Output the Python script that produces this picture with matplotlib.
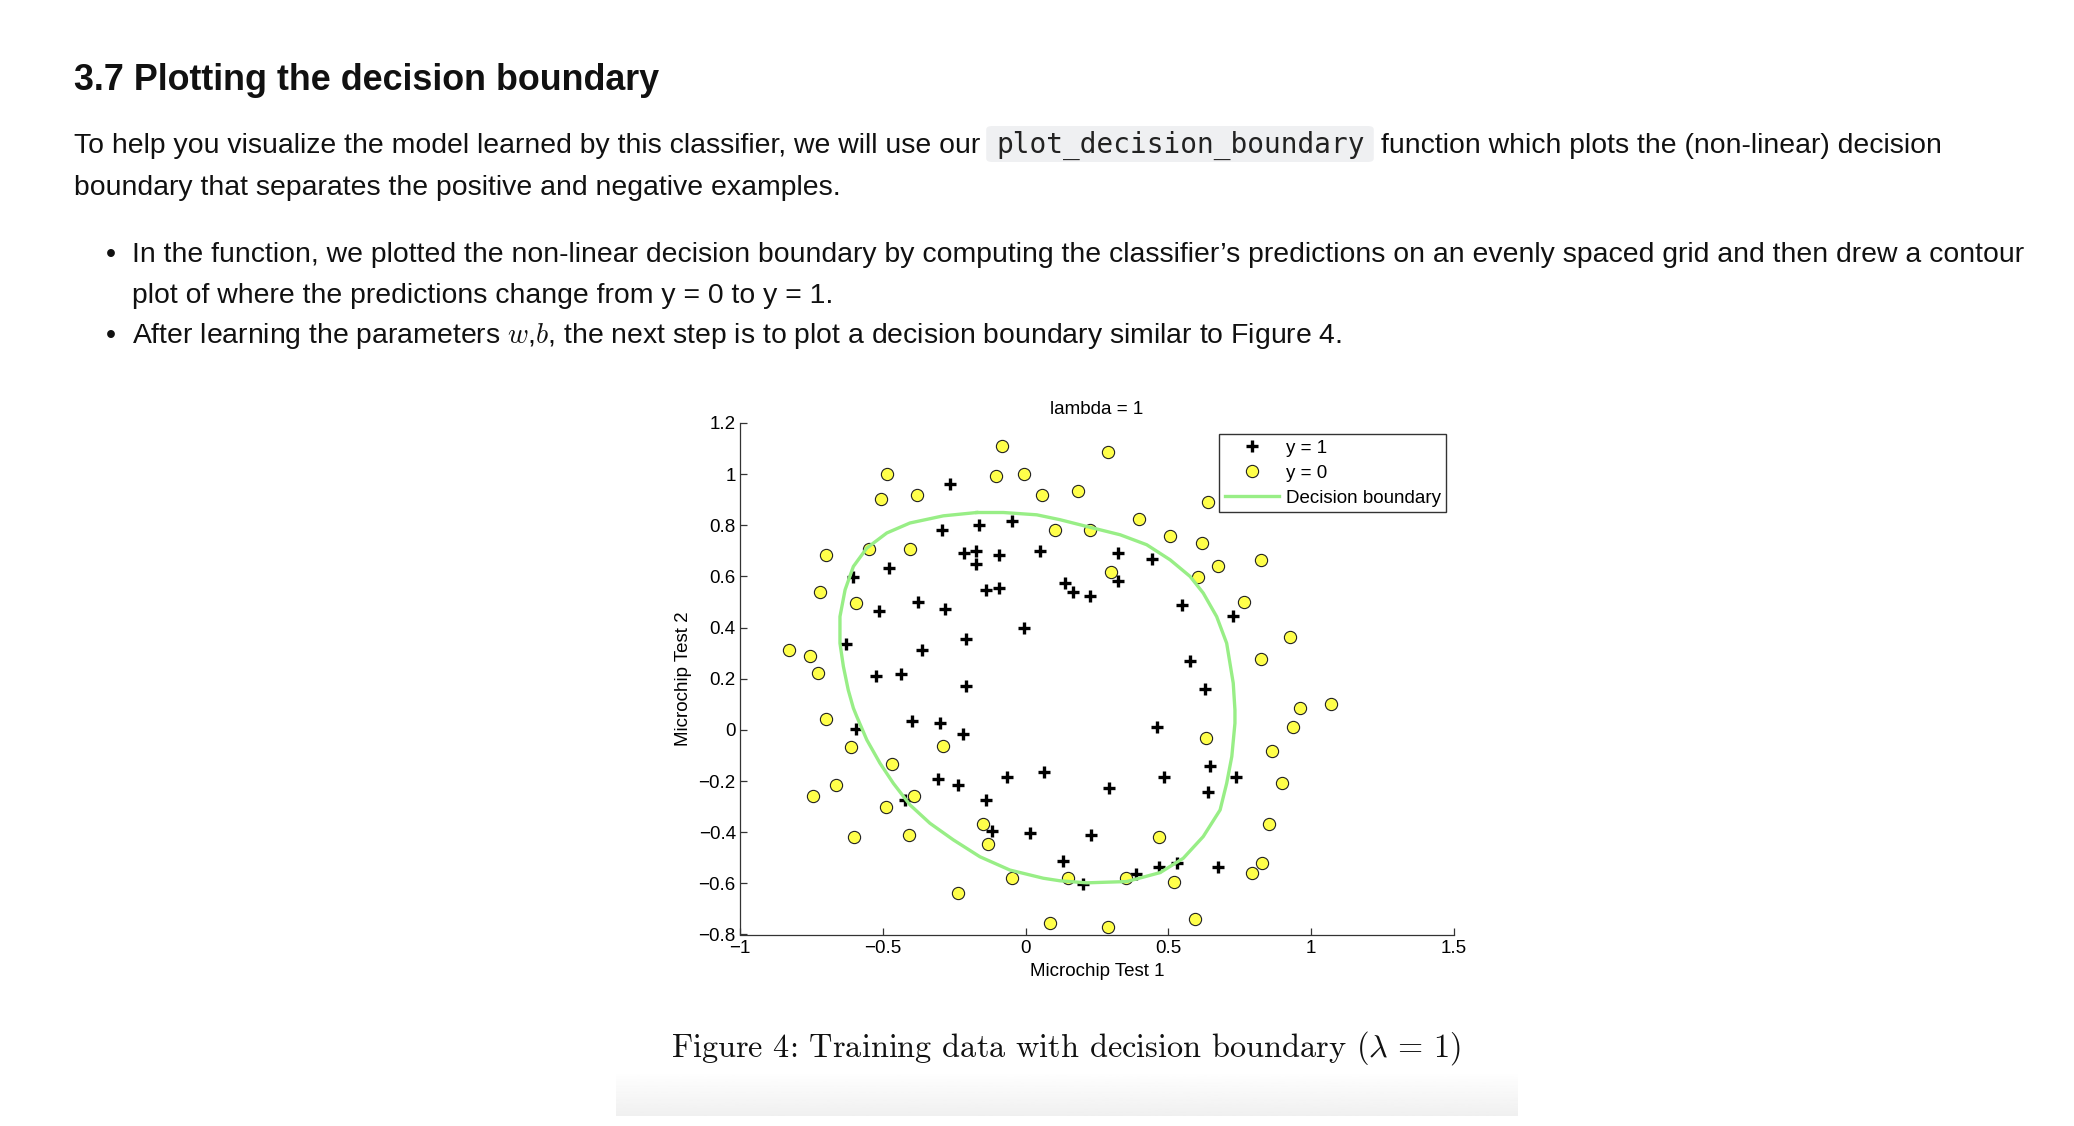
import numpy as np
import matplotlib
import matplotlib.pyplot as plt
from matplotlib.lines import Line2D
from matplotlib.patches import FancyBboxPatch

# microchip test scores, accepted (y = 1)
pos_test1 = [0.051, -0.093, -0.214, -0.375, -0.513, -0.525, -0.398, -0.306, 0.017, 0.132,
             0.385, 0.529, 0.639, 0.737, 0.547, 0.322, 0.166, -0.047, -0.173, -0.479,
             -0.605, -0.628, -0.594, -0.421, -0.116, 0.201, 0.466, 0.673, -0.139, -0.294,
             -0.266, -0.162, -0.173, -0.283, -0.363, -0.300, -0.237, -0.064, 0.063, 0.230,
             0.293, 0.483, 0.645, 0.460, 0.627, 0.575, 0.725, 0.224, 0.443, 0.322,
             0.138, -0.006, -0.093, -0.208, -0.208, -0.438, -0.219, -0.139]
pos_test2 = [0.700, 0.685, 0.692, 0.502, 0.466, 0.210, 0.034, -0.192, -0.404, -0.514,
             -0.565, -0.521, -0.243, -0.185, 0.488, 0.583, 0.539, 0.817, 0.700, 0.634,
             0.597, 0.334, 0.005, -0.273, -0.397, -0.602, -0.536, -0.536, 0.546, 0.780,
             0.963, 0.802, 0.648, 0.473, 0.312, 0.027, -0.214, -0.185, -0.163, -0.412,
             -0.229, -0.185, -0.141, 0.012, 0.159, 0.268, 0.444, 0.524, 0.670, 0.692,
             0.575, 0.400, 0.553, 0.356, 0.173, 0.217, -0.017, -0.273]

# rejected (y = 0)
neg_test1 = [0.184, 0.224, 0.299, 0.506, 0.616, 0.604, 0.766, 0.927, 0.823, 0.961,
             0.938, 0.863, 0.898, 0.852, 0.829, 0.794, 0.593, 0.518, 0.466, 0.351,
             0.287, 0.086, 0.149, -0.133, -0.410, -0.392, -0.744, -0.698, -0.755, -0.698,
             -0.404, -0.381, -0.507, -0.548, 0.103, 0.057, -0.104, -0.081, 0.287, 0.397,
             0.639, 0.823, 0.673, 1.071, -0.047, -0.237, -0.150, -0.490, -0.467, -0.289,
             -0.611, -0.663, -0.600, -0.726, -0.830, -0.721, -0.594, -0.484, -0.006, 0.633]
neg_test2 = [0.933, 0.780, 0.619, 0.758, 0.729, 0.597, 0.502, 0.363, 0.276, 0.086,
             0.012, -0.083, -0.207, -0.368, -0.521, -0.558, -0.741, -0.594, -0.419, -0.580,
             -0.770, -0.755, -0.580, -0.448, -0.412, -0.258, -0.258, 0.042, 0.290, 0.685,
             0.707, 0.919, 0.904, 0.707, 0.780, 0.919, 0.992, 1.109, 1.087, 0.824,
             0.890, 0.663, 0.641, 0.100, -0.580, -0.638, -0.368, -0.302, -0.134, -0.061,
             -0.068, -0.214, -0.419, 0.224, 0.312, 0.539, 0.495, 0.999, 0.999, -0.031]

# decision boundary
boundary_x = [-0.171, -0.078, 0.039, 0.120, 0.237, 0.331, 0.424, 0.506, 0.576, 0.622,
              0.669, 0.704, 0.727, 0.733, 0.733, 0.722, 0.704, 0.681, 0.622, 0.552,
              0.471, 0.354, 0.214, 0.120, 0.062, -0.055, -0.160, -0.253, -0.335, -0.405,
              -0.463, -0.510, -0.556, -0.591, -0.603, -0.621, -0.638, -0.650, -0.650, -0.632,
              -0.603, -0.556, -0.486, -0.405, -0.288, -0.171]
boundary_y = [0.850, 0.850, 0.841, 0.822, 0.789, 0.763, 0.724, 0.665, 0.600, 0.535,
              0.443, 0.339, 0.183, 0.078, 0.026, -0.104, -0.209, -0.313, -0.417, -0.502,
              -0.558, -0.593, -0.598, -0.590, -0.580, -0.548, -0.496, -0.430, -0.365, -0.293,
              -0.209, -0.130, -0.039, 0.052, 0.085, 0.156, 0.248, 0.339, 0.443, 0.548,
              0.639, 0.711, 0.770, 0.809, 0.837, 0.850]

xticks = [-1, -0.5, 0, 0.5, 1, 1.5]
xtick_labels = ['\u22121', '\u22120.5', '0', '0.5', '1', '1.5']
yticks = [-0.8, -0.6, -0.4, -0.2, 0, 0.2, 0.4, 0.6, 0.8, 1, 1.2]
ytick_labels = ['\u22120.8', '\u22120.6', '\u22120.4', '\u22120.2', '0', '0.2', '0.4',
                '0.6', '0.8', '1', '1.2']

W, H = 2074, 1126
plt.rcParams['font.family'] = ['Liberation Sans', 'DejaVu Sans']
plt.rcParams['mathtext.fontset'] = 'cm'

fig = plt.figure(figsize=(W / 100, H / 100), dpi=100)
fig.patch.set_facecolor('white')
renderer = fig.canvas.get_renderer()
TXT = '#111111'


def fx(x):
    return x / W


def fy(y):
    return 1 - y / H


def put(x, y, s, **kw):
    # place text with its baseline at pixel (x, y), return right edge in px
    t = fig.text(fx(x), fy(y), s, va='baseline', ha='left', color=TXT, **kw)
    return t.get_window_extent(renderer).x1


# ---- page text ----
put(74, 90, '3.7 Plotting the decision boundary', fontsize=25.8, fontweight='bold')

body = 20.4
x_end = put(74, 153, 'To help you visualize the model learned by this classifier, we will use our',
            fontsize=body)
box_l = x_end + 6
code = fig.text(fx(box_l + 10), fy(153), 'plot_decision_boundary', va='baseline', ha='left',
                fontsize=20, family='DejaVu Sans Mono', color='#222222')
code_r = code.get_window_extent(renderer).x1
box = FancyBboxPatch((fx(box_l), fy(162)), fx(code_r + 9 - box_l), (162 - 126) / H,
                     boxstyle='round,pad=0,rounding_size=0.003', transform=fig.transFigure,
                     facecolor='#eff0f2', edgecolor='none', zorder=0)
fig.add_artist(box)
put(code_r + 16, 153, 'function which plots the (non-linear) decision', fontsize=body)
put(74, 195, 'boundary that separates the positive and negative examples.', fontsize=body)

put(106, 262, '\u2022', fontsize=body)
put(132, 262, 'In the function, we plotted the non-linear decision boundary by computing the '
              'classifier\u2019s predictions on an evenly spaced grid and then drew a contour',
    fontsize=body)
put(132, 303, 'plot of where the predictions change from y = 0 to y = 1.', fontsize=body)
put(106, 343, '\u2022', fontsize=body)
put(132, 343, 'After learning the parameters $w$,$b$, the next step is to plot a decision '
              'boundary similar to Figure 4.', fontsize=body)

# faint shadow under the figure image
grad = fig.add_axes([fx(616), fy(1116), (1518 - 616) / W, (1116 - 1072) / H])
grad.imshow(np.linspace(1.0, 0.94, 50).reshape(-1, 1), cmap='gray', vmin=0, vmax=1,
            aspect='auto', extent=[0, 1, 0, 1])
grad.set_axis_off()

fig.text(fx(1066), fy(1057), r'Figure 4: Training data with decision boundary $(\lambda\,=\,1)$',
         ha='center', va='baseline', fontsize=23.3, family='cmr10', color=TXT)

# ---- the chart ----
ax = fig.add_axes([fx(740), fy(934.5), (1454 - 740) / W, (934.5 - 423) / H])
ax.plot(pos_test1, pos_test2, linestyle='none', marker='+', ms=8.5, mew=2.4, color='black',
        zorder=2)
ax.plot(neg_test1, neg_test2, linestyle='none', marker='o', ms=8.8, mew=0.8,
        markerfacecolor='#ffff4a', markeredgecolor='#222222', zorder=2)
ax.plot(boundary_x, boundary_y, color='#98ee86', lw=2.4, zorder=3)

ax.set_xlim(-1, 1.5)
ax.set_ylim(-0.8, 1.2)
ax.set_xticks(xticks)
ax.set_xticklabels(xtick_labels)
ax.set_yticks(yticks)
ax.set_yticklabels(ytick_labels)
ax.tick_params(direction='in', length=5, width=0.9, colors='#333333', labelcolor='black',
               labelsize=13.5)
ax.tick_params(axis='x', pad=4)
ax.tick_params(axis='y', pad=3)
for side in ['top', 'right']:
    ax.spines[side].set_visible(False)
for side in ['left', 'bottom']:
    ax.spines[side].set_color('#333333')
    ax.spines[side].set_linewidth(0.9)

ax.set_title('lambda = 1', fontsize=13.5, pad=6.5)
ax.set_xlabel('Microchip Test 1', fontsize=13.5, labelpad=4)
ax.set_ylabel('Microchip Test 2', fontsize=13.5, labelpad=5)

handles = [
    Line2D([], [], linestyle='none', marker='+', ms=8.5, mew=2.4, color='black'),
    Line2D([], [], linestyle='none', marker='o', ms=8.8, mew=0.8,
           markerfacecolor='#ffff4a', markeredgecolor='#222222'),
    Line2D([], [], color='#98ee86', lw=2.4),
]
leg = ax.legend(handles, ['y = 1', 'y = 0', 'Decision boundary'], loc='upper right',
                bbox_to_anchor=(0.989, 0.9785), fontsize=13.5, frameon=True, fancybox=False,
                edgecolor='black', handlelength=2.9, handletextpad=0.35, labelspacing=0.42,
                borderpad=0.3, borderaxespad=0)
leg.get_frame().set_linewidth(1.0)

fig.savefig('out.png', dpi=100, facecolor='white')
